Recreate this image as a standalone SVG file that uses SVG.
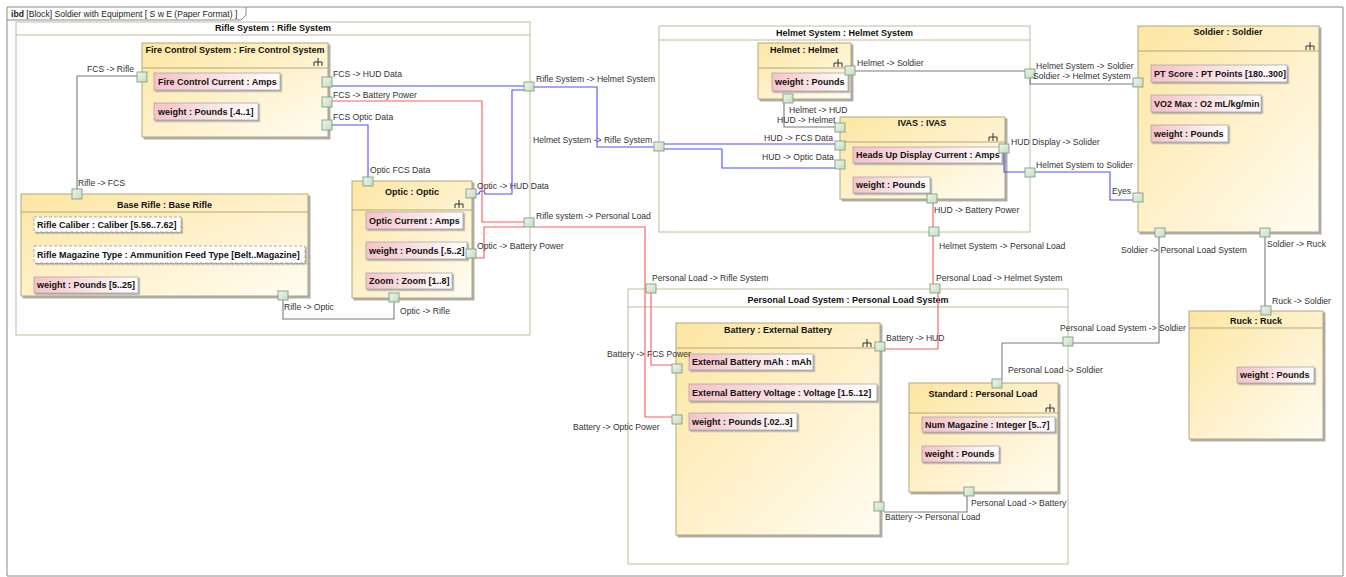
<svg xmlns="http://www.w3.org/2000/svg" width="1346" height="577" viewBox="0 0 1346 577">
<style>
text{font-family:"Liberation Sans",Arial,sans-serif}
.t{font-size:9px;font-weight:bold;fill:#111;text-anchor:middle}
.p{font-size:9px;font-weight:bold;fill:#111}
.l{font-size:8.6px;fill:#333}
.blk{fill:url(#gB);stroke:#B3A67C;stroke-width:1;filter:url(#sh)}
.cont{fill:#fff;stroke:#C4BC9E;stroke-width:1}
.sep{stroke:#B3A67C;stroke-width:1}
.prop{fill:url(#gP);stroke:#A8A8A8;stroke-width:0.8;filter:url(#sh2)}
.pd{fill:#fff;stroke:#999;stroke-width:0.8;stroke-dasharray:3 2;filter:url(#sh2)}
.port{fill:url(#gG);stroke:#7F9F80;stroke-width:0.9}
.sym{fill:none;stroke:#333;stroke-width:1}
.c{fill:none;stroke-width:1.1}
.cg{stroke:#7A7A7A}
.cb{stroke:#4F4FFF}
.cr{stroke:#FF5A5A}
</style>
<defs>
<linearGradient id="gB" x1="0" y1="0" x2="1" y2="1"><stop offset="0" stop-color="#FDE6A2"/><stop offset="1" stop-color="#FFFCF2"/></linearGradient>
<linearGradient id="gP" x1="0" y1="0" x2="1" y2="0"><stop offset="0" stop-color="#F6C2C8"/><stop offset="1" stop-color="#FFFFFF"/></linearGradient>
<linearGradient id="gG" x1="0" y1="0" x2="1" y2="1"><stop offset="0" stop-color="#EEF5EC"/><stop offset="1" stop-color="#C6DCC4"/></linearGradient>
<filter id="sh" x="-5%" y="-5%" width="115%" height="115%"><feDropShadow dx="2" dy="2" stdDeviation="0.7" flood-color="#999" flood-opacity="0.8"/></filter>
<filter id="sh2" x="-5%" y="-10%" width="115%" height="140%"><feDropShadow dx="1.5" dy="1.5" stdDeviation="0.5" flood-color="#999" flood-opacity="0.8"/></filter>
<path id="fork" d="M0,-4 V0 M-4,4 V0 H4 V4 M0,0 V4"/>
</defs>
<rect width="1346" height="577" fill="#fff"/>
<g id="frame">
<path d="M7,576 V7 H1343 V576 Z" fill="none" stroke="#8A8A8A"/>
<path d="M7,20 H241 L246,15 V7" fill="none" stroke="#8A8A8A"/>
<text x="11" y="17" style="font-size:8.6px" fill="#222"><tspan font-weight="bold">ibd</tspan> [Block] Soldier with Equipment [ S w E (Paper Format) ]</text>
</g>

<g id="rifle-system">
<rect class="cont" x="16" y="22" width="514" height="313"/>
<line x1="16" y1="35" x2="530" y2="35" stroke="#C4BC9E"/>
<text class="t" x="273" y="31">Rifle System : Rifle System</text>
</g>
<g id="helmet-system">
<rect class="cont" x="659" y="26" width="371" height="206"/>
<line x1="659" y1="40" x2="1030" y2="40" stroke="#C4BC9E"/>
<text class="t" x="844.5" y="35.5">Helmet System : Helmet System</text>
</g>
<g id="personal-load-system">
<rect class="cont" x="628" y="289" width="440" height="275"/>
<line x1="628" y1="307" x2="1068" y2="307" stroke="#C4BC9E"/>
<text class="t" x="848" y="303">Personal Load System : Personal Load System</text>
</g>

<g id="fcs">
<rect class="blk" x="142" y="43" width="186" height="94"/>
<text class="t" x="235" y="53">Fire Control System : Fire Control System</text>
<use href="#fork" class="sym" x="318" y="62"/>
<line class="sep" x1="142" y1="68" x2="328" y2="68"/>
<rect class="prop" x="154" y="73" width="126" height="17"/>
<text class="p" x="158" y="85">Fire Control Current : Amps</text>
<rect class="prop" x="154" y="103" width="104" height="17"/>
<text class="p" x="158" y="115">weight : Pounds [.4..1]</text>
</g>
<g id="base-rifle">
<rect class="blk" x="21" y="194" width="287" height="102"/>
<text class="t" x="164.5" y="208">Base Rifle : Base Rifle</text>
<line class="sep" x1="21" y1="212" x2="308" y2="212"/>
<rect class="pd" x="34" y="217" width="147" height="15"/>
<text class="p" x="37" y="228">Rifle Caliber : Caliber [5.56..7.62]</text>
<rect class="pd" x="34" y="246" width="271" height="17"/>
<text class="p" x="37" y="258">Rifle Magazine Type : Ammunition Feed Type [Belt..Magazine]</text>
<rect class="prop" x="34" y="277" width="104" height="16"/>
<text class="p" x="37" y="288">weight : Pounds [5..25]</text>
</g>
<g id="optic">
<rect class="blk" x="352" y="181" width="120" height="117"/>
<text class="t" x="412" y="195">Optic : Optic</text>
<use href="#fork" class="sym" x="459" y="204"/>
<line class="sep" x1="352" y1="210" x2="472" y2="210"/>
<rect class="prop" x="366" y="212" width="97" height="17"/>
<text class="p" x="369" y="224">Optic Current : Amps</text>
<rect class="prop" x="366" y="242" width="101" height="17"/>
<text class="p" x="369" y="254">weight : Pounds [.5..2]</text>
<rect class="prop" x="366" y="273" width="86" height="16"/>
<text class="p" x="369" y="284">Zoom : Zoom [1..8]</text>
</g>
<g id="helmet">
<rect class="blk" x="758" y="43" width="93" height="56"/>
<text class="t" x="804" y="53">Helmet : Helmet</text>
<use href="#fork" class="sym" x="838" y="63"/>
<line class="sep" x1="758" y1="68" x2="851" y2="68"/>
<rect class="prop" x="772" y="73" width="76" height="18"/>
<text class="p" x="775" y="85">weight : Pounds</text>
</g>
<g id="ivas">
<rect class="blk" x="840" y="117" width="165" height="82"/>
<text class="t" x="922" y="126">IVAS : IVAS</text>
<use href="#fork" class="sym" x="993" y="137"/>
<line class="sep" x1="840" y1="142" x2="1005" y2="142"/>
<rect class="prop" x="853" y="147" width="149" height="16"/>
<text class="p" x="856" y="158">Heads Up Display Current : Amps</text>
<rect class="prop" x="853" y="177" width="77" height="16"/>
<text class="p" x="856" y="188">weight : Pounds</text>
</g>
<g id="soldier">
<rect class="blk" x="1138" y="26" width="181" height="206"/>
<text class="t" x="1228" y="35">Soldier : Soldier</text>
<use href="#fork" class="sym" x="1310" y="46"/>
<line class="sep" x1="1138" y1="51" x2="1319" y2="51"/>
<rect class="prop" x="1151" y="65" width="136" height="17"/>
<text class="p" x="1154" y="77">PT Score : PT Points [180..300]</text>
<rect class="prop" x="1151" y="95" width="110" height="17"/>
<text class="p" x="1154" y="107">VO2 Max : O2 mL/kg/min</text>
<rect class="prop" x="1151" y="125" width="77" height="17"/>
<text class="p" x="1154" y="137">weight : Pounds</text>
</g>
<g id="ruck">
<rect class="blk" x="1189" y="311" width="134" height="128"/>
<text class="t" x="1256" y="324">Ruck : Ruck</text>
<line class="sep" x1="1189" y1="328" x2="1323" y2="328"/>
<rect class="prop" x="1237" y="367" width="77" height="16"/>
<text class="p" x="1240" y="378">weight : Pounds</text>
</g>
<g id="battery">
<rect class="blk" x="676" y="323" width="204" height="212"/>
<text class="t" x="778" y="333">Battery : External Battery</text>
<use href="#fork" class="sym" x="867" y="343"/>
<line class="sep" x1="676" y1="348" x2="880" y2="348"/>
<rect class="prop" x="689" y="354" width="124" height="16"/>
<text class="p" x="692" y="365">External Battery mAh : mAh</text>
<rect class="prop" x="689" y="384" width="188" height="17"/>
<text class="p" x="692" y="396">External Battery Voltage : Voltage [1.5..12]</text>
<rect class="prop" x="689" y="413" width="108" height="17"/>
<text class="p" x="692" y="425">weight : Pounds [.02..3]</text>
</g>
<g id="standard">
<rect class="blk" x="909" y="383" width="149" height="109"/>
<text class="t" x="983" y="397">Standard : Personal Load</text>
<use href="#fork" class="sym" x="1050" y="408"/>
<line class="sep" x1="909" y1="413" x2="1058" y2="413"/>
<rect class="prop" x="922" y="417" width="133" height="15"/>
<text class="p" x="925" y="428">Num Magazine : Integer [5..7]</text>
<rect class="prop" x="922" y="446" width="77" height="16"/>
<text class="p" x="925" y="457">weight : Pounds</text>
</g>

<g id="connectors">
<polyline class="c cg" points="137,76 77,76 77,189"/>
<polyline class="c cg" points="283,300 283,319 394,319 394,302"/>
<polyline class="c cg" points="784,103 784,127 835,127"/>
<polyline class="c cg" points="855,71 1025,71"/>
<polyline class="c cg" points="1030,78 1030,84 1133,84"/>
<polyline class="c cg" points="1159,237 1159,343 1073,343"/>
<polyline class="c cg" points="1265,237 1265,306"/>
<polyline class="c cg" points="1063,343 1002,343 1002,379"/>
<polyline class="c cg" points="967,496 967,512 884,512"/>
<polyline class="c cb" points="332,86 524,86"/>
<polyline class="c cb" points="332,125 368,125 368,177"/>
<path class="c cb" d="M475,194 H479 A3,3 0 0 1 485,194 H512 V90 H524"/>
<polyline class="c cb" points="534,87 597,87 597,147 654,147"/>
<polyline class="c cb" points="664,144 835,144"/>
<polyline class="c cb" points="664,149 722,149 722,168 835,168"/>
<polyline class="c cb" points="1004,153 1004,172 1025,172"/>
<polyline class="c cb" points="1035,172 1110,172 1110,200 1133,200"/>
<polyline class="c cr" points="332,101 482,101 482,222 524,222"/>
<polyline class="c cr" points="475,258 484,258 484,227 524,227"/>
<polyline class="c cr" points="534,227 645,227 645,417 672,417"/>
<polyline class="c cr" points="651,293 651,365 672,365"/>
<polyline class="c cr" points="933,203 933,227"/>
<polyline class="c cr" points="933,236 933,284"/>
<polyline class="c cr" points="938,293 938,349 885,349"/>
</g>

<g id="ports">
<rect class="port" x="137" y="72" width="10" height="10"/>
<rect class="port" x="322" y="77" width="10" height="10"/>
<rect class="port" x="322" y="97" width="10" height="10"/>
<rect class="port" x="322" y="120" width="10" height="10"/>
<rect class="port" x="72" y="189" width="10" height="10"/>
<rect class="port" x="278" y="291" width="10" height="9"/>
<rect class="port" x="363" y="177" width="10" height="9"/>
<rect class="port" x="466" y="189" width="10" height="9"/>
<rect class="port" x="466" y="249" width="10" height="9"/>
<rect class="port" x="389" y="293" width="10" height="9"/>
<rect class="port" x="524" y="82" width="10" height="9"/>
<rect class="port" x="524" y="218" width="10" height="9"/>
<rect class="port" x="654" y="142" width="10" height="9"/>
<rect class="port" x="1025" y="69" width="10" height="9"/>
<rect class="port" x="1025" y="168" width="10" height="9"/>
<rect class="port" x="929" y="227" width="10" height="9"/>
<rect class="port" x="845" y="66" width="10" height="9"/>
<rect class="port" x="783" y="94" width="10" height="9"/>
<rect class="port" x="835" y="123" width="10" height="9"/>
<rect class="port" x="835" y="141" width="10" height="9"/>
<rect class="port" x="835" y="160" width="10" height="9"/>
<rect class="port" x="999" y="144" width="10" height="9"/>
<rect class="port" x="927" y="194" width="10" height="9"/>
<rect class="port" x="1133" y="78" width="10" height="9"/>
<rect class="port" x="1133" y="193" width="10" height="9"/>
<rect class="port" x="1155" y="228" width="10" height="9"/>
<rect class="port" x="1260" y="228" width="10" height="9"/>
<rect class="port" x="1261" y="306" width="10" height="9"/>
<rect class="port" x="646" y="284" width="10" height="9"/>
<rect class="port" x="930" y="284" width="10" height="9"/>
<rect class="port" x="1063" y="337" width="10" height="9"/>
<rect class="port" x="672" y="364" width="10" height="9"/>
<rect class="port" x="672" y="415" width="10" height="9"/>
<rect class="port" x="875" y="342" width="10" height="9"/>
<rect class="port" x="874" y="502" width="10" height="9"/>
<rect class="port" x="992" y="379" width="10" height="9"/>
<rect class="port" x="964" y="487" width="10" height="9"/>
</g>

<g id="labels">
<text class="l" x="87" y="72">FCS -&gt; Rifle</text>
<text class="l" x="78" y="186">Rifle -&gt; FCS</text>
<text class="l" x="284" y="310">Rifle -&gt; Optic</text>
<text class="l" x="400" y="314">Optic -&gt; Rifle</text>
<text class="l" x="333" y="77">FCS -&gt; HUD Data</text>
<text class="l" x="333" y="98">FCS -&gt; Battery Power</text>
<text class="l" x="333" y="120">FCS Optic Data</text>
<text class="l" x="370" y="173">Optic FCS Data</text>
<text class="l" x="477" y="189">Optic -&gt; HUD Data</text>
<text class="l" x="477" y="249">Optic -&gt; Battery Power</text>
<text class="l" x="536" y="82">Rifle System -&gt; Helmet System</text>
<text class="l" x="533" y="143">Helmet System -&gt; Rifle System</text>
<text class="l" x="536" y="219">Rifle system -&gt; Personal Load</text>
<text class="l" x="857" y="66">Helmet -&gt; Soldier</text>
<text class="l" x="789" y="113">Helmet -&gt; HUD</text>
<text class="l" x="777" y="123">HUD -&gt; Helmet</text>
<text class="l" x="764" y="141">HUD -&gt; FCS Data</text>
<text class="l" x="762" y="160">HUD -&gt; Optic Data</text>
<text class="l" x="1011" y="145">HUD Display -&gt; Solider</text>
<text class="l" x="1036" y="168">Helmet System to Solider</text>
<text class="l" x="1112" y="194">Eyes</text>
<text class="l" x="1036" y="69">Helmet System -&gt; Soldier</text>
<text class="l" x="1033" y="79">Soldier -&gt; Helmet System</text>
<text class="l" x="934" y="213">HUD -&gt; Battery Power</text>
<text class="l" x="939" y="249">Helmet System -&gt; Personal Load</text>
<text class="l" x="936" y="281">Personal Load -&gt; Helmet System</text>
<text class="l" x="1121" y="253">Soldier -&gt; Personal Load System</text>
<text class="l" x="1267" y="247">Soldier -&gt; Ruck</text>
<text class="l" x="1272" y="304">Ruck -&gt; Soldier</text>
<text class="l" x="652" y="281">Personal Load -&gt; Rifle System</text>
<text class="l" x="607" y="357">Battery -&gt; FCS Power</text>
<text class="l" x="573" y="430">Battery -&gt; Optic Power</text>
<text class="l" x="886" y="341">Battery -&gt; HUD</text>
<text class="l" x="1060" y="331">Personal Load System -&gt; Soldier</text>
<text class="l" x="1008" y="373">Personal Load -&gt; Soldier</text>
<text class="l" x="971" y="506">Personal Load -&gt; Battery</text>
<text class="l" x="885" y="520">Battery -&gt; Personal Load</text>
</g>
</svg>
